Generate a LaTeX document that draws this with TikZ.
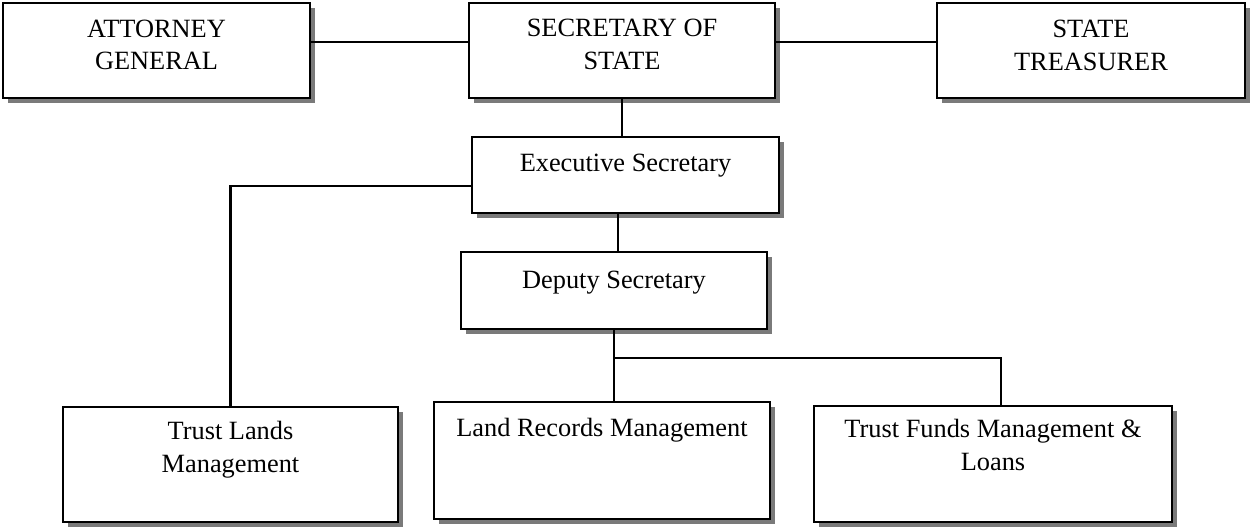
\documentclass[tikz,border=0pt]{standalone}
\usepackage{fontspec}
\setmainfont{Liberation Serif}
\usetikzlibrary{shadows}

\tikzset{
  orgbox/.style={draw=black, line width=1.4pt, fill=white, inner sep=0pt,
    drop shadow={shadow xshift=0.1cm, shadow yshift=-0.1cm, fill=black!52, opacity=1}},
  orgtext/.style={anchor=base, align=center, inner sep=0pt,
    font=\fontsize{15pt}{18.4pt}\selectfont},
  orgline/.style={line width=1.2pt}
}

\begin{document}
\begin{tikzpicture}
% organisation chart of the office
\useasboundingbox (0,0) rectangle (25.02,-10.54);

\node[orgbox, minimum width=6.14cm, minimum height=1.90cm] (ag) at (3.13,-1.01) {};
\node[orgtext] (agtext) at ([yshift=-1.36cm]ag.north) {ATTORNEY\\GENERAL};

\node[orgbox, minimum width=6.12cm, minimum height=1.90cm] (sos) at (12.44,-1.01) {};
\node[orgtext] (sostext) at ([yshift=-1.35cm]sos.north) {SECRETARY OF\\STATE};

\node[orgbox, minimum width=6.16cm, minimum height=1.90cm] (st) at (21.82,-1.01) {};
\node[orgtext] (sttext) at ([yshift=-1.37cm]st.north) {STATE\\TREASURER};

\node[orgbox, minimum width=6.14cm, minimum height=1.52cm] (es) at (12.51,-3.50) {};
\node[orgtext] (estext) at ([yshift=-0.72cm]es.north) {Executive Secretary};

\node[orgbox, minimum width=6.12cm, minimum height=1.54cm] (ds) at (12.28,-5.81) {};
\node[orgtext] (dstext) at ([yshift=-0.75cm]ds.north) {Deputy Secretary};

\node[orgbox, minimum width=6.70cm, minimum height=2.30cm] (tl) at (4.61,-9.29) {};
\node[orgtext] (tltext) at ([yshift=-1.33cm]tl.north) {Trust Lands\\Management};

\node[orgbox, minimum width=6.72cm, minimum height=2.34cm] (lr) at (12.04,-9.21) {};
\node[orgtext] (lrtext) at ([yshift=-0.72cm]lr.north) {Land Records Management};

\node[orgbox, minimum width=7.16cm, minimum height=2.32cm] (tf) at (19.86,-9.28) {};
\node[orgtext] (tftext) at ([yshift=-1.31cm]tf.north) {Trust Funds Management \&\\Loans};

\coordinate (split) at ([yshift=-0.56cm]ds.south);

\draw[orgline] ([yshift=0.17cm]ag.east) -- ([yshift=0.17cm]sos.west);
\draw[orgline] ([yshift=0.17cm]sos.east) -- ([yshift=0.17cm]st.west);
\draw[orgline] (sos.south) -- (sos.south |- es.north);
\draw[orgline] ([yshift=-0.22cm]es.west) -| (tl.north);
\draw[orgline] ([xshift=0.08cm]ds.north) -- ([xshift=0.08cm]ds.north |- es.south);
\draw[orgline] (ds.south) -- (ds.south |- lr.north);
\draw[orgline] (split) -| ([xshift=0.16cm]tf.north);

\end{tikzpicture}
\end{document}
